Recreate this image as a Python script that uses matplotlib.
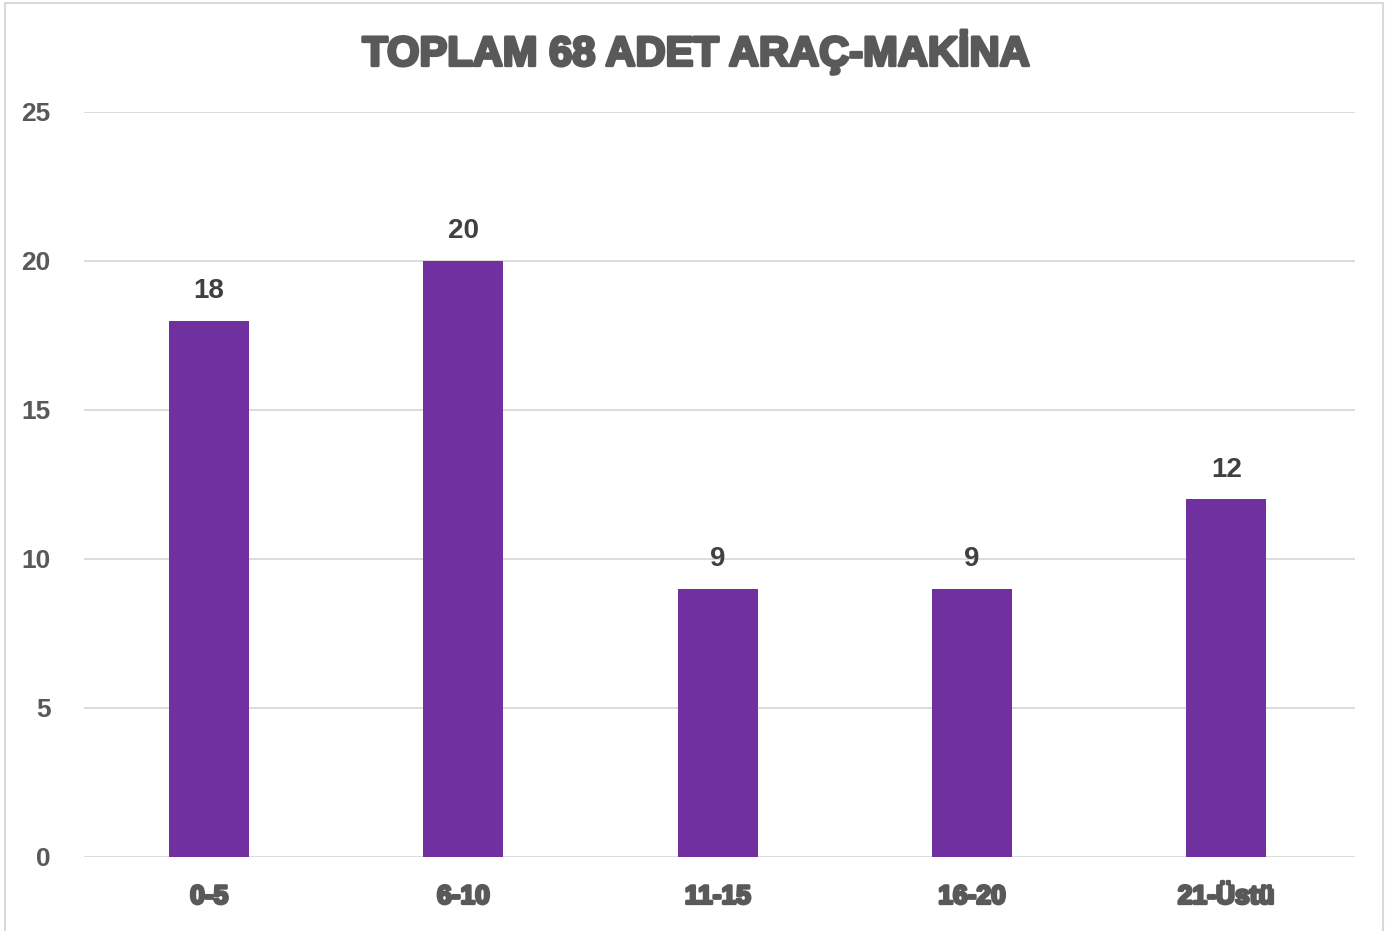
import matplotlib.pyplot as plt
import matplotlib.patheffects as pe
from matplotlib.patches import Rectangle

# veri
kategoriler = ["0-5", "6-10", "11-15", "16-20", "21-Üstü"]
adet = [18, 20, 9, 9, 12]
baslik = "TOPLAM 68 ADET ARAÇ-MAKİNA"

plt.rcParams['font.family'] = ['Liberation Sans', 'DejaVu Sans']

fig = plt.figure(figsize=(13.91, 9.31), dpi=100)
ax = fig.add_axes([0.0604, 0.0795, 0.914, 0.8002])

ax.bar(range(len(kategoriler)), adet, width=0.315, color='#7030A0', zorder=3)
for i, v in enumerate(adet):
    ax.annotate(str(v), (i, v), xytext=(0, 12), textcoords='offset points',
                ha='center', va='bottom', fontsize=20, fontweight='bold', color='#404040')

ax.set_xlim(-0.492, len(kategoriler) - 0.492)
ax.set_ylim(0, 25)
ax.set_yticks([0, 5, 10, 15, 20, 25])
ax.set_xticks(range(len(kategoriler)))
ax.set_xticklabels(kategoriler)
ax.grid(axis='y', color='#d9d9d9', linewidth=1.3, zorder=0)
ax.tick_params(length=0, labelcolor='#595959')
ax.tick_params(axis='y', pad=24, labelsize=19)
ax.tick_params(axis='x', pad=20, labelsize=19)
for lab in ax.get_yticklabels():
    lab.set_fontweight('bold')
for lab in ax.get_xticklabels():
    lab.set_fontweight('bold')
    lab.set_path_effects([pe.withStroke(linewidth=2, foreground='#595959')])
for s in ax.spines.values():
    s.set_visible(False)

fig.text(0.5, 0.944, baslik, ha='center', va='center', fontsize=30, fontweight='bold',
         color='#595959', path_effects=[pe.withStroke(linewidth=2.2, foreground='#595959')])

fig.patches.append(Rectangle((0.0036, -0.01), 0.9907, 1.007, transform=fig.transFigure,
                             fill=False, edgecolor='#d9d9d9', linewidth=1.5))

fig.savefig("out.png", dpi=100)
